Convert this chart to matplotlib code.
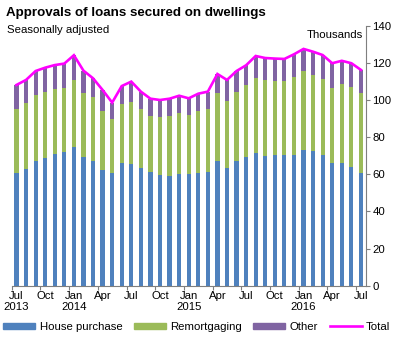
import matplotlib
matplotlib.use("Agg")
import matplotlib.pyplot as plt
import numpy as np
from matplotlib.patches import Patch
from matplotlib.lines import Line2D

plt.rcParams['font.family'] = ['Liberation Sans', 'DejaVu Sans']

months = ["Jul 2013", "Aug 2013", "Sep 2013", "Oct 2013", "Nov 2013", "Dec 2013",
          "Jan 2014", "Feb 2014", "Mar 2014", "Apr 2014", "May 2014", "Jun 2014",
          "Jul 2014", "Aug 2014", "Sep 2014", "Oct 2014", "Nov 2014", "Dec 2014",
          "Jan 2015", "Feb 2015", "Mar 2015", "Apr 2015", "May 2015", "Jun 2015",
          "Jul 2015", "Aug 2015", "Sep 2015", "Oct 2015", "Nov 2015", "Dec 2015",
          "Jan 2016", "Feb 2016", "Mar 2016", "Apr 2016", "May 2016", "Jun 2016",
          "Jul 2016"]

house_purchase = [60.9, 62.8, 67.0, 68.6, 71.1, 71.8, 74.9, 69.3, 67.2, 62.3,
                  60.9, 66.1, 65.5, 63.5, 61.4, 59.6, 59.2, 60.0, 60.0, 60.9,
                  61.4, 67.1, 63.5, 67.2, 69.5, 71.3, 69.7, 70.2, 70.6, 70.6,
                  73.2, 72.5, 70.2, 65.9, 65.9, 64.1, 60.9]
house_plus_remortgaging = [95.2, 98.2, 102.7, 104.1, 105.7, 106.3, 110.8, 103.6, 101.8, 94.1,
                           89.8, 97.7, 99.1, 95.2, 91.5, 90.8, 91.5, 92.8, 91.8, 93.9,
                           95.2, 103.8, 99.5, 104.3, 108.1, 112.0, 110.8, 110.2, 110.1, 112.4,
                           115.5, 113.5, 111.3, 106.5, 108.6, 107.0, 103.8]
total = [108.1, 110.8, 115.6, 117.4, 118.8, 119.6, 124.1, 115.8, 111.7, 105.4,
         98.6, 107.5, 109.9, 104.5, 100.7, 100.0, 100.7, 102.3, 100.9, 103.4,
         104.5, 114.0, 110.8, 115.6, 118.7, 123.7, 122.6, 122.3, 122.1, 124.6,
         127.5, 126.0, 124.2, 119.8, 121.1, 119.8, 116.2]

remortgaging = [round(a - b, 1) for a, b in zip(house_plus_remortgaging, house_purchase)]
other = [round(a - b, 1) for a, b in zip(total, house_plus_remortgaging)]

tick_labels = ["Jul\n2013", "Oct", "Jan\n2014", "Apr", "Jul", "Oct", "Jan\n2015",
               "Apr", "Jul", "Oct", "Jan\n2016", "Apr", "Jul"]
yticks = [0, 20, 40, 60, 80, 100, 120, 140]

c_blue = "#4F81BD"
c_green = "#9BBB59"
c_purple = "#8064A2"
c_magenta = "#FF00FF"
axis_grey = "#7F7F7F"
fs = 8.2

fig = plt.figure(figsize=(4.1, 3.4), dpi=100)
ax = fig.add_axes([0.0285, 0.1597, 0.892 - 0.0285, 0.9244 - 0.1597])

x = np.arange(len(months))
w = 0.44
ax.bar(x, house_purchase, width=w, color=c_blue, linewidth=0)
ax.bar(x, remortgaging, width=w, bottom=house_purchase, color=c_green, linewidth=0)
ax.bar(x, other, width=w, bottom=house_plus_remortgaging, color=c_purple, linewidth=0)
ax.plot(x, total, color=c_magenta, linewidth=1.9, solid_joinstyle='miter')

ax.set_xlim(-0.5, len(months) - 0.5)
ax.set_ylim(0, 140)

for s in ['top', 'left']:
    ax.spines[s].set_visible(False)
ax.spines['right'].set_color(axis_grey)
ax.spines['bottom'].set_color(axis_grey)

ax.yaxis.tick_right()
ax.set_yticks(yticks)
ax.set_yticklabels([str(v) for v in yticks], fontsize=fs)
ax.tick_params(axis='y', direction='out', length=3.2, width=0.8, color=axis_grey, pad=1.5)

ax.set_xticks(np.arange(-0.5, len(months) - 0.5, 3))
ax.set_xticklabels([])
ax.tick_params(axis='x', which='major', direction='out', length=3.2, width=0.8, color=axis_grey)
ax.set_xticks(np.arange(0, len(months), 3), minor=True)
ax.set_xticklabels(tick_labels, minor=True, fontsize=fs, linespacing=1.15)
ax.tick_params(axis='x', which='minor', length=0, pad=3.5)

ax.text(36.26, 135.2, "Thousands", ha='right', va='center', fontsize=fs)

fig.text(0.014, 0.962, "Approvals of loans secured on dwellings", fontsize=9.6,
         fontweight='bold', ha='left', va='center')
fig.text(0.017, 0.912, "Seasonally adjusted", fontsize=fs, ha='left', va='center')

handles = [Patch(color=c_blue), Patch(color=c_green), Patch(color=c_purple),
           Line2D([], [], color=c_magenta, linewidth=1.9)]
labels = ["House purchase", "Remortgaging", "Other", "Total"]
fig.legend(handles, labels, loc='center', bbox_to_anchor=(0.48, 0.039), ncol=4,
           frameon=False, fontsize=fs, handlelength=2.8, handleheight=0.45,
           handletextpad=0.4, columnspacing=1.0, borderpad=0, borderaxespad=0)

fig.savefig("out.png", dpi=100)
